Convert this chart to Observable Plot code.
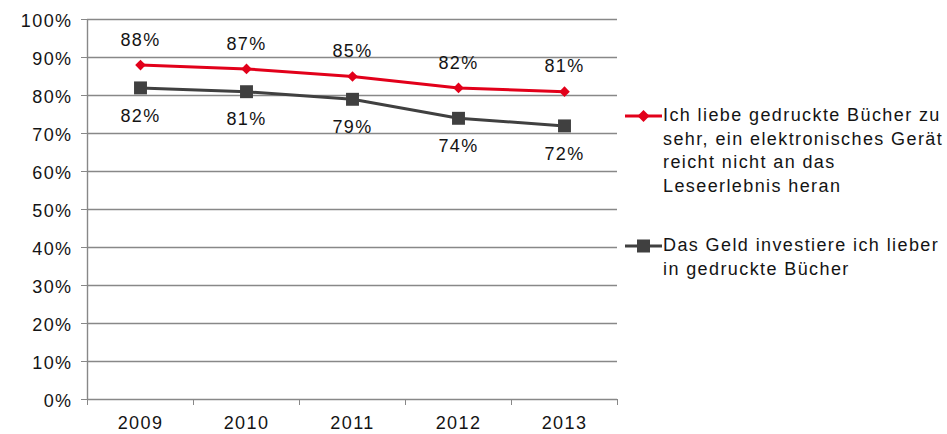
<!DOCTYPE html>
<html>
<head>
<meta charset="utf-8">
<script src="https://cdn.jsdelivr.net/npm/d3@7"></script>
<script src="https://cdn.jsdelivr.net/npm/@observablehq/plot@0.6"></script>
<style>
  html, body { margin: 0; padding: 0; background: #fff; }
  #wrap { position: relative; width: 947px; height: 434px; font-family: "Liberation Sans", Arial, sans-serif; }
  .legend-item { position: absolute; left: 625px; display: flex; align-items: flex-start; }
  .legend-item svg { flex: none; }
  .legend-text { font-size: 18px; letter-spacing: 1.4px; line-height: 23.7px; color: #141414; margin-left: 0px; white-space: nowrap; }
</style>
</head>
<body>
<div id="wrap"></div>
<script>
const years = [2009, 2010, 2011, 2012, 2013];
const loveValues = [0.88, 0.87, 0.85, 0.82, 0.81];
const moneyValues = [0.82, 0.81, 0.79, 0.74, 0.72];
const yTicks = [0, 0.1, 0.2, 0.3, 0.4, 0.5, 0.6, 0.7, 0.8, 0.9, 1.0];
const xBoundaries = [2008.5, 2009.5, 2010.5, 2011.5, 2012.5, 2013.5];
const seriesNames = [
  ["Ich liebe gedruckte Bücher zu", "sehr, ein elektronisches Gerät", "reicht nicht an das", "Leseerlebnis heran"],
  ["Das Geld investiere ich lieber", "in gedruckte Bücher"]
];
const red = "#e2001a";
const gray = "#404040";

const love = years.map((y, i) => ({year: y, value: loveValues[i]}));
const money = years.map((y, i) => ({year: y, value: moneyValues[i]}));
const pct = d3.format(".0%");

const chart = Plot.plot({
  width: 947,
  height: 434,
  marginLeft: 87,
  marginRight: 330,
  marginTop: 19,
  marginBottom: 35,
  style: "font-family: 'Liberation Sans', Arial, sans-serif; font-size: 18px; letter-spacing: 1.4px; color: #141414; background: #fff;",
  x: {type: "linear", domain: [2008.5, 2013.5]},
  y: {domain: [0, 1]},
  marks: [
    Plot.ruleY(yTicks.filter(d => d > 0), {stroke: "#888888", strokeWidth: 1.3}),
    Plot.ruleY([0], {stroke: "#888888", strokeWidth: 1.4}),
    Plot.ruleX([2008.5], {stroke: "#888888", strokeWidth: 1.4}),
    Plot.axisY({ticks: yTicks, tickFormat: () => "", tickSize: 6, stroke: "#888888", label: null}),
    Plot.axisY({ticks: yTicks, tickFormat: pct, tickSize: 0, tickPadding: 15, fontSize: 18, fill: "#141414", dy: 1.5, label: null}),
    Plot.axisX({ticks: xBoundaries, tickFormat: () => "", tickSize: 6, stroke: "#888888", label: null}),
    Plot.axisX({ticks: years, tickFormat: d => String(d), tickSize: 0, tickPadding: 17, fontSize: 18, fill: "#141414", label: null}),
    Plot.line(love, {x: "year", y: "value", stroke: red, strokeWidth: 3}),
    Plot.line(money, {x: "year", y: "value", stroke: gray, strokeWidth: 3}),
    Plot.dot(love, {x: "year", y: "value", symbol: "diamond2", r: 4.8, fill: red, stroke: "none"}),
    Plot.dot(money, {x: "year", y: "value", symbol: "square", r: 7.3, fill: gray, stroke: "none"}),
    Plot.text(love, {x: "year", y: "value", text: d => pct(d.value), dy: -25, fontSize: 18, fill: "#141414"}),
    Plot.text(money, {x: "year", y: "value", text: d => pct(d.value), dy: 28, fontSize: 18, fill: "#141414"})
  ]
});

const wrap = document.getElementById("wrap");
wrap.appendChild(chart);

function swatch(color, kind) {
  const ns = "http://www.w3.org/2000/svg";
  const svg = document.createElementNS(ns, "svg");
  svg.setAttribute("width", 38);
  svg.setAttribute("height", 24);
  const line = document.createElementNS(ns, "line");
  line.setAttribute("x1", 0); line.setAttribute("x2", 37);
  line.setAttribute("y1", 12); line.setAttribute("y2", 12);
  line.setAttribute("stroke", color); line.setAttribute("stroke-width", 3);
  svg.appendChild(line);
  if (kind === "diamond") {
    const p = document.createElementNS(ns, "path");
    p.setAttribute("d", "M18.5,6 L24.5,12 L18.5,18 L12.5,12 Z");
    p.setAttribute("fill", color);
    svg.appendChild(p);
  } else {
    const r = document.createElementNS(ns, "rect");
    r.setAttribute("x", 12); r.setAttribute("y", 5.5);
    r.setAttribute("width", 13); r.setAttribute("height", 13);
    r.setAttribute("fill", color);
    svg.appendChild(r);
  }
  return svg;
}

const tops = [104, 234];
const kinds = ["diamond", "square"];
const colors = [red, gray];
seriesNames.forEach((lines, i) => {
  const item = document.createElement("div");
  item.className = "legend-item";
  item.style.top = tops[i] + "px";
  item.appendChild(swatch(colors[i], kinds[i]));
  const t = document.createElement("div");
  t.className = "legend-text";
  t.innerHTML = lines.join("<br>");
  item.appendChild(t);
  wrap.appendChild(item);
});
</script>
</body>
</html>
